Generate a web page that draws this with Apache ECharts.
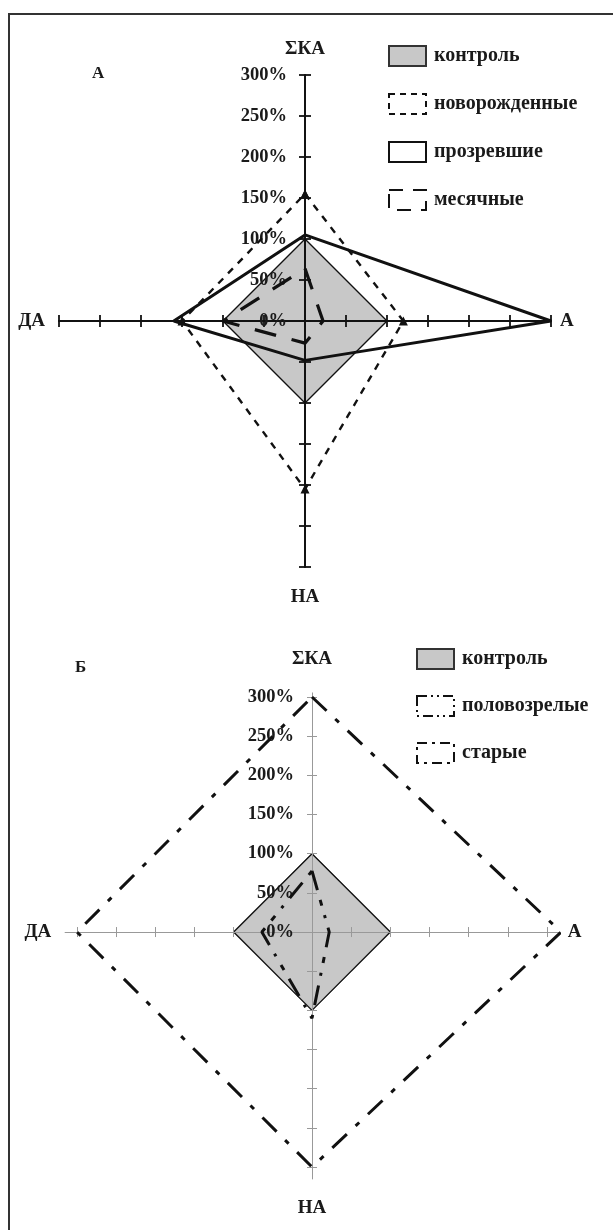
<!DOCTYPE html>
<html><head><meta charset="utf-8">
<script src="https://cdn.jsdelivr.net/npm/echarts@6/dist/echarts.min.js"></script>
<style>
html,body{margin:0;padding:0;background:#fff;}
#chart{position:absolute;left:0;top:0;width:613px;height:1230px;}
#frame{position:absolute;left:8px;top:13px;width:605px;height:1217px;border-left:2px solid #333;border-top:2px solid #333;pointer-events:none;}
</style></head><body>
<div id="chart"></div><div id="frame"></div>
<script>
// axis order: top, right, bottom, left
const axisNames = ['ΣКА', 'А', 'НА', 'ДА'];
const tickValues = [-300, -250, -200, -150, -100, -50, 0, 50, 100, 150, 200, 250, 300];
const labelValues = [0, 50, 100, 150, 200, 250, 300];

// Panel А
const namesA = ['контроль', 'новорожденные', 'прозревшие', 'месячные'];
const controlA = [100, 100, 100, 100];
const newbornA = [155, 120, 205, 150];
const openedA = [105, 300, 48, 160];
const monthlyA = [64, 22, 27, 100];

// Panel Б
const namesB = ['контроль', 'половозрелые', 'старые'];
const controlB = [100, 100, 100, 100];
const matureB = [78, 22, 110, 64];
const oldB = [300, 318, 300, 300];

const FONT = 'Liberation Serif';
function toXY(v) {
  return [[0, v[0]], [v[1], 0], [0, -v[2]], [-v[3], 0], [0, v[0]]];
}
const txt = (size) => ({fontFamily: FONT, fontWeight: 'bold', fontSize: size, color: '#1a1a1a'});

const grids = [
  {left: 59, top: 75, width: 492, height: 492, containLabel: false, outerBoundsMode: 'none'},
  {left: 65.25, top: 693.1, width: 493.5, height: 485.7, containLabel: false, outerBoundsMode: 'none'}
];

function axesFor(g, color, width, tickLen, xr, yr, gaps) {
  const grid = grids[g];
  const ls = {color: color, width: width};
  // shift the axes so that they cross at the zero point of the other axis
  const offLeft = -(0 - xr[0]) / (xr[1] - xr[0]) * grid.width;
  const offRight = -(xr[1] - 0) / (xr[1] - xr[0]) * grid.width;
  const offBottom = -(0 - yr[0]) / (yr[1] - yr[0]) * grid.height;
  const offTop = -(yr[1] - 0) / (yr[1] - yr[0]) * grid.height;
  const base = {gridIndex: g, type: 'value', z: 1.5, splitLine: {show: false}};
  const tick = {show: true, length: tickLen, customValues: tickValues, lineStyle: ls};
  const xs = [
    Object.assign({}, base, {min: xr[0], max: xr[1], position: 'bottom', offset: offBottom, name: axisNames[1], nameLocation: 'end', nameGap: gaps[1], nameTextStyle: txt(19),
      axisLine: {onZero: false, lineStyle: ls}, axisTick: tick, axisLabel: {show: false}}),
    Object.assign({}, base, {min: xr[0], max: xr[1], position: 'top', offset: offTop, name: axisNames[3], nameLocation: 'start', nameGap: gaps[3], nameTextStyle: txt(19),
      axisLine: {onZero: false, lineStyle: ls}, axisTick: tick, axisLabel: {show: false}})
  ];
  const ys = [
    Object.assign({}, base, {min: yr[0], max: yr[1], position: 'left', offset: offLeft, name: axisNames[0], nameLocation: 'end', nameGap: gaps[0], nameTextStyle: txt(19),
      axisLine: {onZero: false, lineStyle: ls}, axisTick: tick,
      axisLabel: Object.assign({show: true, margin: 18, customValues: labelValues, formatter: (v) => v + '%'}, txt(18.5))}),
    Object.assign({}, base, {min: yr[0], max: yr[1], position: 'right', offset: offRight, name: axisNames[2], nameLocation: 'start', nameGap: gaps[2], nameTextStyle: txt(19),
      axisLine: {onZero: false, lineStyle: ls}, axisTick: tick, axisLabel: {show: false}})
  ];
  return {xs, ys};
}

const aA = axesFor(0, '#111', 1.8, 6, [-300, 300], [-300, 300], [16, 9, 21, 14]);
const aB = axesFor(1, '#999', 1, 5, [-315, 315], [-315, 305], [25, 9, 20, 14]);

function lineSeries(name, vals, g, lineType, width, extra) {
  return Object.assign({
    type: 'line', name: name, data: toXY(vals), xAxisIndex: 2 * g, yAxisIndex: 2 * g,
    symbol: 'none', clip: false, z: 3, silent: true,
    lineStyle: {color: '#111', width: width, type: lineType},
    itemStyle: {color: '#111'}
  }, extra || {});
}
function controlSeries(name, vals, g) {
  return {
    type: 'line', name: name, data: toXY(vals), xAxisIndex: 2 * g, yAxisIndex: 2 * g,
    symbol: 'none', clip: false, z: 1, silent: true,
    lineStyle: {color: '#111', width: 1.4},
    itemStyle: {color: '#c8c8c8'},
    areaStyle: {color: '#c8c8c8', opacity: 1}
  };
}

const legendBase = {
  orient: 'vertical', itemWidth: 37, itemHeight: 20, selectedMode: false,
  textStyle: Object.assign({padding: [0, 0, 0, 3]}, txt(20))
};
const ctrlIcon = {icon: 'rect', itemStyle: {color: '#c8c8c8', borderColor: '#333', borderWidth: 2}};
const lineIcon = (dash) => ({icon: 'rect', itemStyle: {color: '#fff', borderColor: '#111', borderWidth: 2, borderType: dash}});

const option = {
  animation: false,
  backgroundColor: '#fff',
  title: [
    {text: 'А', left: 87, top: 60, textStyle: txt(17)},
    {text: 'Б', left: 70, top: 654, textStyle: txt(17)}
  ],
  grid: grids,
  xAxis: aA.xs.concat(aB.xs),
  yAxis: aA.ys.concat(aB.ys),
  legend: [
    Object.assign({}, legendBase, {left: 383, top: 40, itemGap: 26, data: [
      Object.assign({name: namesA[0]}, ctrlIcon),
      Object.assign({name: namesA[1]}, lineIcon([6, 5])),
      Object.assign({name: namesA[2]}, lineIcon('solid')),
      Object.assign({name: namesA[3]}, lineIcon([14, 10]))
    ]}),
    Object.assign({}, legendBase, {left: 411, top: 643, itemGap: 25, data: [
      Object.assign({name: namesB[0]}, ctrlIcon),
      Object.assign({name: namesB[1]}, lineIcon([10, 4, 2, 4, 2, 4])),
      Object.assign({name: namesB[2]}, lineIcon([10, 5, 3, 5]))
    ]})
  ],
  series: [
    controlSeries(namesA[0], controlA, 0),
    lineSeries(namesA[1], newbornA, 0, [7, 7], 2.4, {symbol: 'triangle', symbolSize: 9, showSymbol: true}),
    lineSeries(namesA[2], openedA, 0, 'solid', 3),
    lineSeries(namesA[3], monthlyA, 0, [22, 16], 3.2),
    controlSeries(namesB[0], controlB, 1),
    lineSeries(namesB[1], matureB, 1, [20, 10, 6, 10, 3, 10], 3),
    lineSeries(namesB[2], oldB, 1, [20, 12, 5, 12], 3)
  ]
};
const chart = echarts.init(document.getElementById('chart'), null, {renderer: 'canvas'});
chart.setOption(option);
</script>
</body></html>
